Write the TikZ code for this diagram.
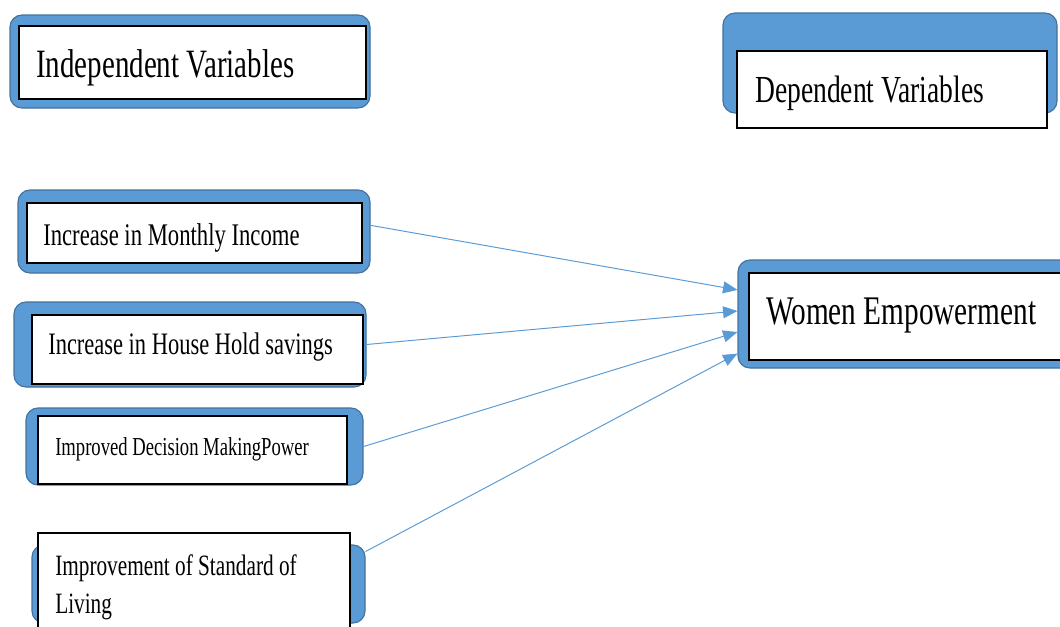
\documentclass[tikz,border=0pt]{standalone}
\usepackage{fontspec}
\newfontfamily\boxfont[FakeStretch=0.72]{Liberation Serif}
\usetikzlibrary{arrows.meta,fit}
\definecolor{boxblue}{HTML}{5B9BD5}
\definecolor{boxedge}{HTML}{41719C}

\begin{document}
\begin{tikzpicture}[x=0.025cm, y=-0.025cm,
  bluebox/.style={fill=boxblue, draw=boxedge, line width=0.8pt, rounded corners=0.3cm, inner sep=0pt},
  whitebox/.style={fill=white, draw=black, line width=0.8pt, inner sep=0pt},
  boxtext/.style={anchor=base west, inner sep=0pt},
  link/.style={draw=boxblue, line width=0.7pt, -{Triangle[length=0.36cm, width=0.3cm]}}]
\useasboundingbox (0,0) rectangle (1060,626);
\clip (0,0) rectangle (1060,626);

% headings
\node[bluebox, fit={(10,15) (370,108)}] (indepbg) {};
\node[whitebox, fit={(19,26) (366,99)}] (indep) {};
\node[boxtext, font={\boxfont\fontsize{28.6pt}{30pt}\selectfont}] (indeptext) at (36,77) {Independent Variables};

\node[bluebox, fit={(723,13) (1057,113)}] (depbg) {};
\node[whitebox, fit={(737,51) (1047,128)}] (dep) {};
\node[boxtext, font={\boxfont\fontsize{27.2pt}{29pt}\selectfont}] (deptext) at (755,102) {Dependent Variables};

% independent variables
\node[bluebox, fit={(18,190) (370,273)}] (incomebg) {};
\node[whitebox, fit={(27,203) (362,263)}] (income) {};
\node[boxtext, font={\boxfont\fontsize{22.4pt}{24pt}\selectfont}] (incometext) at (43,245) {Increase in Monthly Income};

\node[bluebox, fit={(14,302) (366,387)}] (savingsbg) {};
\node[whitebox, fit={(32,315) (363,384)}] (savings) {};
\node[boxtext, font={\boxfont\fontsize{22.2pt}{24pt}\selectfont}] (savingstext) at (48,354) {Increase in House Hold savings};

\node[bluebox, fit={(26,408) (363,485)}] (decisionbg) {};
\node[whitebox, fit={(38,416) (347,484)}] (decision) {};
\node[boxtext, font={\boxfont\fontsize{18.4pt}{20pt}\selectfont}] (decisiontext) at (55,455) {Improved Decision MakingPower};

\node[bluebox, fit={(32,545) (365,623)}] (livingbg) {};
\node[whitebox, fit={(38,533) (350,640)}] (living) {};
\node[boxtext, font={\boxfont\fontsize{21pt}{23pt}\selectfont}] (livingtexta) at (55,575) {Improvement of Standard of};
\node[boxtext, font={\boxfont\fontsize{21pt}{23pt}\selectfont}] (livingtextb) at (55,613) {Living};

% dependent variable
\node[bluebox, fit={(738,260) (1080,368)}] (womenbg) {};
\node[whitebox, fit={(749,273) (1075,360)}] (women) {};
\node[boxtext, font={\boxfont\fontsize{28.9pt}{30pt}\selectfont}] (womentext) at (766,324) {Women Empowerment};

% links
\draw[link] (incomebg.2) -- (womenbg.172);
\draw[link] (savingsbg.east) -- (womenbg.179);
\draw[link] (decisionbg.east) -- (womenbg.186);
\draw[link] (livingbg.11.5) -- (womenbg.193.5);
\end{tikzpicture}
\end{document}
